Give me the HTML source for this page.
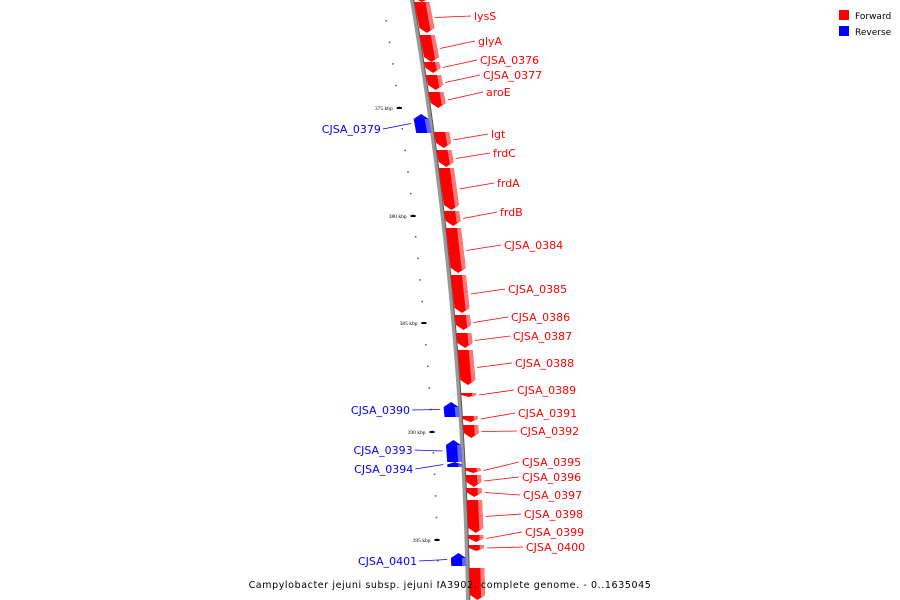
<!DOCTYPE html>
<html><head><meta charset="utf-8"><style>
html,body{margin:0;padding:0;background:#fff}
svg{display:block;font-family:"DejaVu Sans","Liberation Sans",sans-serif}
</style></head><body>
<svg id="c" width="900" height="600" viewBox="0 0 900 600">
<g id="dots"></g>
<path id="bb" fill="none" stroke="#999" stroke-width="4"/>
<path id="bb2" fill="none" stroke="#555" stroke-width="1"/>
<g id="genes"></g>
<g id="labels"></g>
<g>
<rect x="839" y="10" width="10" height="10" fill="#f00"/>
<text x="855" y="19" font-size="9" fill="#000">Forward</text>
<rect x="839" y="26" width="10" height="10" fill="#00f"/>
<text x="855" y="35" font-size="9" fill="#000">Reverse</text>
</g>
<text x="450" y="588" font-size="9.5" text-anchor="middle" letter-spacing="0.6" fill="#000">Campylobacter jejuni subsp. jejuni IA3902, complete genome. - 0..1635045</text>
</svg>
<script>
const fwdStart=[-5,2,35,62,75,92,132,150,168,211,228,275,315,333,350,393,416,425,468,475,488,500,535,545,568];
const fwdEnd=[2,33,62,73,90,108,148,167,210,226,273,313,330,348,385,397,422,438,473,487,497,533,542,551,600];
const fwdName=["","lysS","glyA","CJSA_0376","CJSA_0377","aroE","lgt","frdC","frdA","frdB","CJSA_0384","CJSA_0385","CJSA_0386","CJSA_0387","CJSA_0388","CJSA_0389","CJSA_0391","CJSA_0392","CJSA_0395","CJSA_0396","CJSA_0397","CJSA_0398","CJSA_0399","CJSA_0400",""];
const fwdLabelY=[0,16,41,60,75,92,134,153,183,212,245,289,317,336,363,390,413,431,462,477,495,514,532,547,0];
const fwdLabelX=[0,474,478,480,483,486,491,493,497,500,504,508,511,513,515,517,518,520,522,522,523,524,525,526,0];
const revStart=[114,402,440,462,553];
const revEnd=[133,417,462,467,566];
const revName=["CJSA_0379","CJSA_0390","CJSA_0393","CJSA_0394","CJSA_0401"];
const revLabelY=[129,410,450,469,561];
const kbpLabels=["375 kbp","380 kbp","385 kbp","390 kbp","395 kbp"];
const kbpY=[108,216,323,432,540];
const NS="http://www.w3.org/2000/svg";
function lx(y){return 412+0.169*y-0.000126*y*y;}
function mk(t,a,p){const e=document.createElementNS(NS,t);for(const k in a)e.setAttribute(k,a[k]);p.appendChild(e);return e;}
let d="";for(let y=-5;y<=605;y+=5)d+=(y<0?"M":"L")+lx(y).toFixed(2)+","+y+" ";
document.getElementById('bb').setAttribute('d',d);
let d2="";for(let y=-5;y<=605;y+=5)d2+=(y<0?"M":"L")+(lx(y)+1.8).toFixed(2)+","+y+" ";
document.getElementById('bb2').setAttribute('d',d2);
const G=document.getElementById('genes'),L=document.getElementById('labels'),D=document.getElementById('dots');
// minor ticks
for(let y=20;y<600;y+=21.6){const e=mk('rect',{x:lx(y)-30,y:y,width:1.5,height:1.5,fill:'#555'},D);
}
kbpLabels.forEach((t,i)=>{const y=kbpY[i];const x=lx(y);
const r=mk('rect',{x:x-32,y:y-1,width:5,height:2,fill:'#000'},D);

const e=mk('text',{x:x-36,y:y+2,'font-size':'5.5','text-anchor':'end',fill:'#000','font-family':'Liberation Serif,serif'},D);
e.textContent=t;});
function gene(s,e,fwd,i){const W=15,h=Math.min(5,(e-s)/2);
const x0=fwd?lx(s)+2:lx(s)-16,x1=fwd?lx(e)+2:lx(e)-16;
let pts;
if(fwd)pts=[[x0,s],[x0+W,s],[x1+W,e-h],[x1+W/2,e],[x1,e-h]];
else pts=[[x0+W/2,s],[x0+W,s+h],[x1+W,e],[x1,e],[x0,s+h]];
const p=mk('polygon',{points:pts.map(q=>q.join(',')).join(' '),fill:fwd?'#f00':'#00f'},G);

const sp=fwd?[[x0+W-4,s],[x0+W,s],[x1+W,e-h],[x1+W-4,e-h+2]]:[[x0+W-4,s+h],[x0+W,s+h],[x1+W,e],[x1+W-4,e]];
const q=mk('polygon',{points:sp.map(q=>q.join(',')).join(' '),fill:fwd?'#f77':'#66f'},G);
}
fwdStart.forEach((s,i)=>{gene(s,fwdEnd[i],true,i);
if(!fwdName[i])return;const m=(s+fwdEnd[i])/2,gx=lx(m)+20;const ly=fwdLabelY[i],tx=fwdLabelX[i];
const l=mk('line',{x1:gx,y1:m,x2:tx-3,y2:ly,stroke:'#f00','stroke-width':'0.8'},L);

const t=mk('text',{x:tx,y:ly+4,'font-size':'11',fill:'#f00'},L);t.textContent=fwdName[i];
});
revStart.forEach((s,i)=>{gene(s,revEnd[i],false,i);
const m=(s+revEnd[i])/2,gx=lx(m)-20;const ly=revLabelY[i];
const t=mk('text',{x:gx-30,y:ly+4,'font-size':'11',fill:'#00f','text-anchor':'end'},L);t.textContent=revName[i];

const l=mk('line',{x1:gx-28,y1:ly,x2:gx,y2:m,stroke:'#00f','stroke-width':'0.8'},L);
});
</script>
</body></html>
